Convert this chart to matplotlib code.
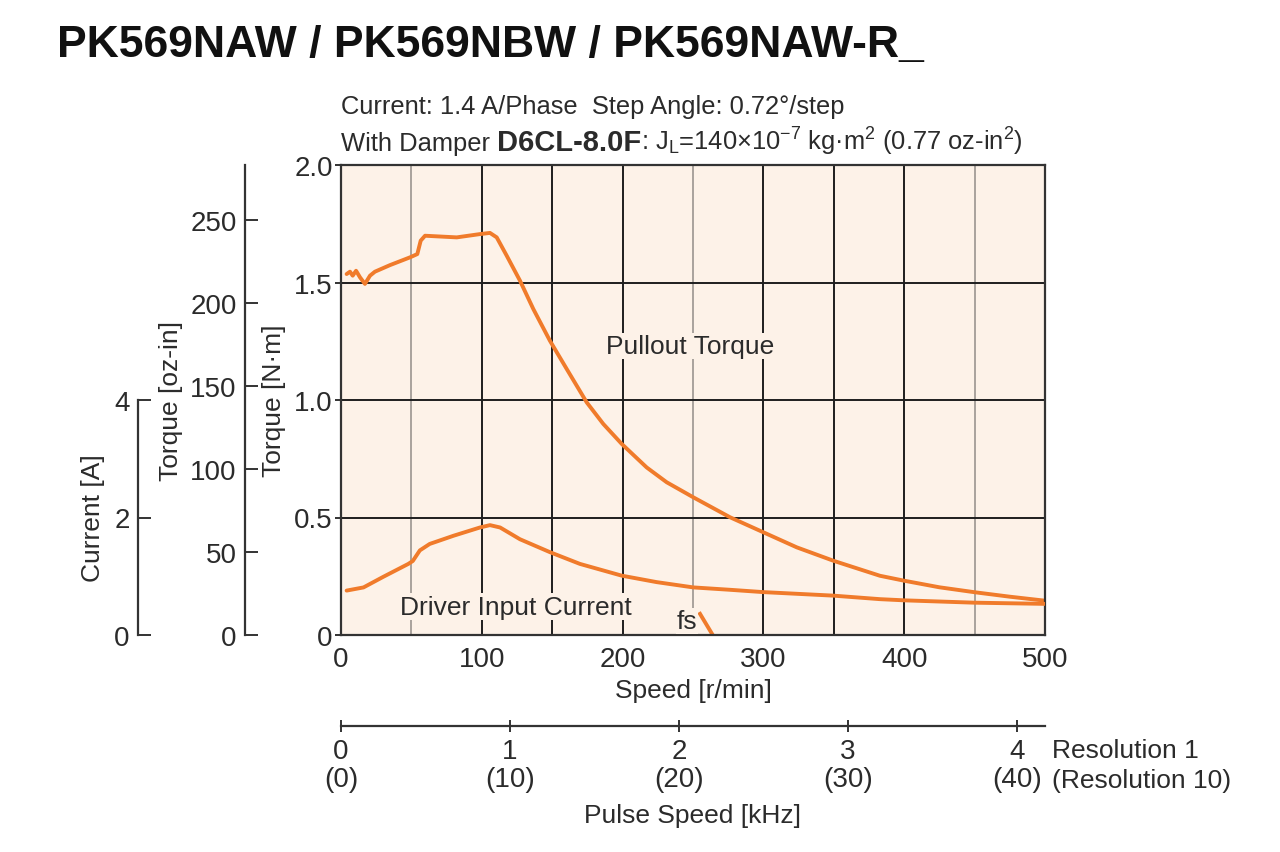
import matplotlib
matplotlib.use("Agg")
import matplotlib.pyplot as plt
from matplotlib import font_manager

names = {f.name for f in font_manager.fontManager.ttflist}
NARROW = "Liberation Sans Narrow" if "Liberation Sans Narrow" in names else "Liberation Sans"

plt.rcParams["font.family"] = [NARROW, "DejaVu Sans"]
plt.rcParams["mathtext.fontset"] = "custom"
plt.rcParams["mathtext.rm"] = NARROW
plt.rcParams["mathtext.it"] = NARROW

# pullout torque [N·m] vs speed [r/min]
torque_speed = [4.0, 6.4, 8.3, 10.7, 13.5, 17.0, 20.6, 24.1, 34.8, 49, 54.2, 56.6, 59.7,
                82.2, 98.7, 105.8, 110.6, 117.7, 127.1, 136.6, 148.4, 160.3, 174.5, 186.3,
                199.4, 217.1, 231.3, 250.2, 276.3, 300, 323.7, 349.7, 382.8, 400, 425,
                450, 475, 500]
torque_nm = [1.536, 1.546, 1.529, 1.550, 1.522, 1.494, 1.529, 1.546, 1.574, 1.607, 1.621,
             1.678, 1.699, 1.692, 1.706, 1.711, 1.692, 1.614, 1.508, 1.387, 1.252, 1.132,
             0.99, 0.898, 0.813, 0.713, 0.65, 0.586, 0.501, 0.437, 0.373, 0.316, 0.252,
             0.231, 0.203, 0.182, 0.163, 0.146]

# driver input current [A] vs speed [r/min]
current_speed = [4, 16, 30, 47.8, 51, 56, 63, 80, 98.7, 105.8, 113, 127.1, 148.4, 169.7,
                 199.4, 224.2, 250.2, 276, 300, 349.7, 382.8, 400, 450, 500]
current_a = [0.756, 0.81, 0.99, 1.21, 1.26, 1.44, 1.55, 1.69, 1.83, 1.87, 1.83, 1.63,
             1.41, 1.21, 1.01, 0.90, 0.81, 0.77, 0.73, 0.67, 0.61, 0.59, 0.55, 0.53]

# starting frequency marker
fs_speed = [255, 264]
fs_torque = [0.09, 0.0]

speed_ticks = [0, 100, 200, 300, 400, 500]
nm_ticks = [0, 0.5, 1.0, 1.5, 2.0]
nm_labels = ["0", "0.5", "1.0", "1.5", "2.0"]
oz_ticks = [0, 50, 100, 150, 200, 250]
amp_ticks = [0, 2, 4]
pulse_ticks = [0, 1, 2, 3, 4]
pulse_labels = ["0\n(0)", "1\n(10)", "2\n(20)", "3\n(30)", "4\n(40)"]

NM_TO_OZIN = 141.612
RPM_PER_KHZ = 120.0

ORANGE = "#f07b2b"
BG = "#fdf2e8"
TXT = "#2b2b2b"
FS = 20      # tick labels
LFS = 19     # axis labels and notes

fig = plt.figure(figsize=(12.8, 8.53), dpi=100)

L, B, W, H = 341 / 1280, 1 - 636 / 853, 704 / 1280, 470 / 853

ax = fig.add_axes([L, B, W, H])
ax.set_facecolor(BG)
ax.set_xlim(0, 500)
ax.set_ylim(0, 2.0)
for s in ax.spines.values():
    s.set_color("#333333")
    s.set_linewidth(1.6)
    s.set_zorder(4)

for v in range(50, 500, 50):
    col = "#a9a29c" if v in (50, 250, 450) else "#1e1e1e"
    ax.axvline(v, color=col, lw=1.4, zorder=1)
for h in nm_ticks[1:-1]:
    ax.axhline(h, color="#1e1e1e", lw=1.4, zorder=1)

ax.set_xticks(speed_ticks)
ax.set_yticks(nm_ticks)
ax.set_yticklabels(nm_labels)
ax.tick_params(axis="x", length=0, pad=8, labelsize=FS, labelcolor=TXT)
ax.tick_params(axis="y", length=4, width=1.4, pad=2, labelsize=FS, labelcolor=TXT, color="#333333")
ax.set_xlabel("Speed [r/min]", fontsize=LFS, color=TXT, labelpad=4)
ax.set_ylabel("Torque [N·m]", fontsize=LFS, color=TXT, labelpad=6)

ax.plot(torque_speed, torque_nm, color=ORANGE, lw=2.8, zorder=3,
        solid_capstyle="round", solid_joinstyle="round")
ax.plot(fs_speed, fs_torque, color=ORANGE, lw=2.8, zorder=3)

axc = ax.twinx()
axc.set_ylim(0, 8)
axc.axis("off")
axc.plot(current_speed, current_a, color=ORANGE, lw=2.8, zorder=3,
         solid_capstyle="round", solid_joinstyle="round")

ax.text(248, 1.23, "Pullout Torque", fontsize=LFS, color=TXT, ha="center", va="center",
        zorder=5, bbox=dict(facecolor=BG, edgecolor="none", pad=1))
ax.text(42, 0.12, "Driver Input Current", fontsize=LFS, color=TXT, ha="left", va="center",
        zorder=5, bbox=dict(facecolor=BG, edgecolor="none", pad=1))
ax.text(253, 0.06, "fs", fontsize=LFS, color=TXT, ha="right", va="center",
        zorder=5, bbox=dict(facecolor=BG, edgecolor="none", pad=0.5))


def side_axis(x_px, top, ticks, label, bound_top, label_dx, label_y):
    a = fig.add_axes([x_px / 1280, B, 0.0001, H])
    a.set_ylim(0, top)
    a.set_xticks([])
    for k in ("top", "right", "bottom"):
        a.spines[k].set_visible(False)
    a.spines["left"].set_color("#333333")
    a.spines["left"].set_linewidth(1.6)
    a.spines["left"].set_bounds(0, bound_top)
    a.set_yticks(ticks)
    a.tick_params(axis="y", direction="in", length=9, width=1.4, pad=6,
                  labelsize=FS, labelcolor=TXT, color="#333333")
    a.set_ylabel(label, fontsize=LFS, color=TXT)
    a.yaxis.set_label_coords(label_dx / (0.0001 * 1280), label_y)
    return a


oz_top = 2.0 * NM_TO_OZIN
ax_oz = side_axis(245, oz_top, oz_ticks, "Torque [oz-in]", oz_top, -62, 0.5)
ax_a = side_axis(138, 8, amp_ticks, "Current [A]", 4, -33, 0.25)

# pulse speed axis
axp = fig.add_axes([L, 1 - 727 / 853, W, 0.0001])
axp.set_xlim(0, 500 / RPM_PER_KHZ)
axp.set_yticks([])
for k in ("top", "right", "left"):
    axp.spines[k].set_visible(False)
axp.spines["bottom"].set_color("#333333")
axp.spines["bottom"].set_linewidth(1.6)
axp.set_xticks(pulse_ticks)
axp.set_xticklabels(pulse_labels, linespacing=1.1)
axp.tick_params(axis="x", direction="inout", length=9, width=1.4, pad=4,
                labelsize=FS, labelcolor=TXT, color="#333333")
axp.set_xlabel("Pulse Speed [kHz]", fontsize=LFS, color=TXT, labelpad=8)
fig.text(1052 / 1280, 1 - 766 / 853, "Resolution 1\n(Resolution 10)", fontsize=LFS,
         color=TXT, ha="left", va="center", linespacing=1.3)

fig.text(57 / 1280, 1 - 46 / 853, "PK569NAW / PK569NBW / PK569NAW-R_",
         fontsize=32, fontweight="bold", family=["Liberation Sans", "DejaVu Sans"],
         ha="left", va="center", color="#111111")

fig.text(L, 1 - 107 / 853, "Current: 1.4 A/Phase  Step Angle: 0.72°/step",
         fontsize=18.4, color=TXT, ha="left", va="center")

# second subtitle line, built from pieces
renderer = fig.canvas.get_renderer()
pieces = [
    ("With Damper ", dict()),
    ("D6CL-8.0F", dict(fontweight="bold", family=["Liberation Sans", "DejaVu Sans"], fontsize=21)),
    (r": J$_{\mathrm{L}}$=140×10$^{−7}$ kg·m$^{2}$ (0.77 oz-in$^{2}$)", dict()),
]
x = L
for txt, kw in pieces:
    opts = dict(fontsize=18.4, color=TXT, ha="left", va="baseline")
    opts.update(kw)
    t = fig.text(x, 1 - 151 / 853, txt, **opts)
    bb = t.get_window_extent(renderer=renderer)
    x = bb.x1 / fig.bbox.width

fig.savefig("out.png", dpi=100, facecolor="white")
